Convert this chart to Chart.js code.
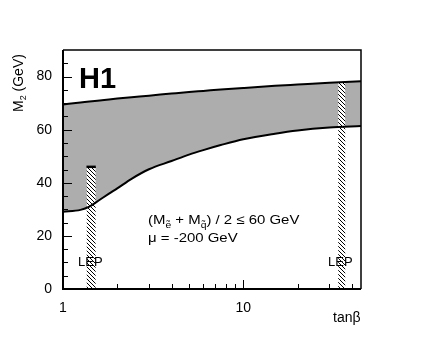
<!DOCTYPE html>
<html>
<head>
<meta charset="utf-8">
<script src="https://cdn.jsdelivr.net/npm/chart.js@4.4.0/dist/chart.umd.min.js"></script>
<style>
html, body { margin: 0; padding: 0; background: #fff; }
#wrap { width: 425px; height: 340px; }
</style>
</head>
<body>
<div id="wrap"><canvas id="grafico" width="425" height="340"></canvas></div>
<script>
// Dados
const tanBeta = [1, 1.25, 1.4, 1.6, 1.8, 2, 2.4, 3, 4, 5, 6, 7.5, 10, 15, 20, 30, 45];
const m2Upper = [69.5, 70.2, 70.6, 71.0, 71.4, 71.7, 72.2, 72.8, 73.6, 74.2, 74.6, 75.1, 75.7, 76.5, 77.0, 77.7, 78.2];
const m2Lower = [29.1, 29.8, 31.0, 33.6, 35.9, 37.9, 41.5, 45.1, 48.2, 50.6, 52.3, 54.2, 56.4, 58.5, 59.7, 60.8, 61.4];

// Regiões excluídas pelo LEP (hachuradas)
const lepLowX = [1.35, 1.52];
const lepLowY = [46, 46];
const lepHighX = [33.6, 36.9];
const lepHighY = [77.85, 77.95];

// Ticks
const xTickLabels = [1, 10];
const xMinorTicks = [2, 3, 4, 5, 6, 7, 8, 9, 20, 30, 40];
const yTickLabels = [0, 20, 40, 60, 80];
const yMinorTicks = [5, 10, 15, 25, 30, 35, 45, 50, 55, 65, 70, 75, 85];

const FONTE = '"Liberation Sans", Arial, Helvetica, sans-serif';
const corBanda = '#adadad';

function pontos(xs, ys) {
    return xs.map((x, i) => ({ x: x, y: ys[i] }));
}

function criarHachura() {
    const c = document.createElement('canvas');
    c.width = 4; c.height = 4;
    const g = c.getContext('2d');
    g.fillStyle = '#fff';
    g.fillRect(0, 0, 4, 4);
    g.strokeStyle = '#000';
    g.lineWidth = 1;
    g.beginPath();
    g.moveTo(-1, -1); g.lineTo(5, 5);
    g.moveTo(3, -1); g.lineTo(5, 1);
    g.moveTo(-1, 3); g.lineTo(1, 5);
    g.stroke();
    return g.createPattern(c, 'repeat');
}

// escreve texto em partes (para subscritos), com esticamento horizontal opcional
function escrever(ctx, partes, x, y, escalaX) {
    ctx.save();
    ctx.translate(x, y);
    ctx.scale(escalaX || 1, 1);
    ctx.fillStyle = '#000';
    ctx.textBaseline = 'alphabetic';
    ctx.textAlign = 'left';
    let cx = 0;
    partes.forEach(p => {
        ctx.font = `${p.bold ? 'bold ' : ''}${p.size}px ${FONTE}`;
        const w = ctx.measureText(p.t).width;
        ctx.fillText(p.t, cx, p.dy || 0);
        if (p.til) {
            // til sobre a letra subscrita
            const wt = ctx.measureText('˜').width;
            ctx.fillText('˜', cx + (w - wt) / 2, (p.dy || 0) - 1);
        }
        cx += w;
    });
    ctx.restore();
}

// moldura e ticks internos
const molduraTicks = {
    id: 'molduraTicks',
    afterDatasetsDraw(chart) {
        const { ctx, chartArea: a, scales: { x, y } } = chart;
        ctx.save();
        ctx.strokeStyle = '#000';
        ctx.lineWidth = 1;
        ctx.beginPath();
        const tx = (v, len) => {
            const px = Math.round(x.getPixelForValue(v)) + 0.5;
            ctx.moveTo(px, a.bottom); ctx.lineTo(px, a.bottom - len);
        };
        const ty = (v, len) => {
            const py = Math.round(y.getPixelForValue(v)) + 0.5;
            ctx.moveTo(a.left, py); ctx.lineTo(a.left + len, py);
        };
        xTickLabels.forEach(v => tx(v, 9));
        xMinorTicks.forEach(v => tx(v, 5));
        yTickLabels.forEach(v => ty(v, 9));
        yMinorTicks.forEach(v => ty(v, 5));
        ctx.stroke();

        ctx.lineWidth = 1.5;
        ctx.beginPath();
        ctx.moveTo(a.left, a.top); ctx.lineTo(a.right, a.top); ctx.lineTo(a.right, a.bottom);
        ctx.stroke();
        ctx.lineWidth = 2;
        ctx.beginPath();
        ctx.moveTo(a.left, a.top); ctx.lineTo(a.left, a.bottom); ctx.lineTo(a.right, a.bottom);
        ctx.stroke();
        ctx.restore();
    }
};

// textos: H1, anotações, LEP, títulos dos eixos
const textos = {
    id: 'textos',
    afterDraw(chart) {
        const ctx = chart.ctx;
        escrever(ctx, [{ t: 'H1', size: 29, bold: true }], 79, 88);

        escrever(ctx, [
            { t: '(M', size: 13 },
            { t: 'e', size: 9, dy: 4, til: true },
            { t: ' + M', size: 13 },
            { t: 'q', size: 9, dy: 4, til: true },
            { t: ') / 2 ≤ 60 GeV', size: 13 }
        ], 148, 224, 1.15);
        escrever(ctx, [{ t: 'μ = -200 GeV', size: 13 }], 148, 241.5, 1.15);

        escrever(ctx, [{ t: 'LEP', size: 13 }], 78, 266);
        escrever(ctx, [{ t: 'LEP', size: 13 }], 328, 266);

        escrever(ctx, [{ t: 'tanβ', size: 14 }], 333, 322);

        ctx.save();
        ctx.translate(22.5, 112);
        ctx.rotate(-Math.PI / 2);
        escrever(ctx, [
            { t: 'M', size: 14 },
            { t: '2', size: 9, dy: 3.5 },
            { t: ' (GeV)', size: 14 }
        ], 0, 0);
        ctx.restore();
    }
};

const hachura = criarHachura();

new Chart(document.getElementById('grafico'), {
    type: 'line',
    data: {
        datasets: [
            {
                data: pontos(tanBeta, m2Upper),
                borderColor: '#000', borderWidth: 2,
                backgroundColor: corBanda, fill: 1,
                pointRadius: 0, tension: 0.4, cubicInterpolationMode: 'monotone',
                order: 5
            },
            {
                data: pontos(tanBeta, m2Lower),
                borderColor: '#000', borderWidth: 2,
                fill: false,
                pointRadius: 0, tension: 0.4, cubicInterpolationMode: 'monotone',
                order: 0
            },
            {
                data: pontos(lepLowX, lepLowY),
                borderColor: '#000', borderWidth: 2.5, borderCapStyle: 'butt',
                backgroundColor: hachura, fill: 'origin',
                pointRadius: 0,
                order: 2
            },
            {
                data: pontos(lepHighX, lepHighY),
                borderWidth: 0,
                backgroundColor: hachura, fill: 'origin',
                pointRadius: 0,
                order: 2
            }
        ]
    },
    options: {
        responsive: false,
        animation: false,
        events: [],
        layout: { padding: { top: 50, right: 64, left: 0, bottom: 0 } },
        plugins: {
            legend: { display: false },
            tooltip: { enabled: false },
            filler: { drawTime: 'beforeDatasetsDraw' }
        },
        scales: {
            x: {
                type: 'logarithmic', min: 1, max: 45,
                afterBuildTicks: s => { s.ticks = xTickLabels.map(v => ({ value: v })); },
                afterFit: s => { s.height = 51; },
                grid: { display: false, drawTicks: false },
                border: { display: false },
                ticks: {
                    color: '#000', font: { family: FONTE, size: 14 }, padding: 11,
                    maxRotation: 0, autoSkip: false,
                    callback: v => String(v)
                }
            },
            y: {
                min: 0, max: 90,
                afterBuildTicks: s => { s.ticks = yTickLabels.map(v => ({ value: v })); },
                afterFit: s => { s.width = 63; },
                grid: { display: false, drawTicks: false },
                border: { display: false },
                ticks: {
                    color: '#000', font: { family: FONTE, size: 14 }, padding: 11,
                    callback: v => String(v)
                }
            }
        }
    },
    plugins: [molduraTicks, textos]
});
</script>
</body>
</html>
